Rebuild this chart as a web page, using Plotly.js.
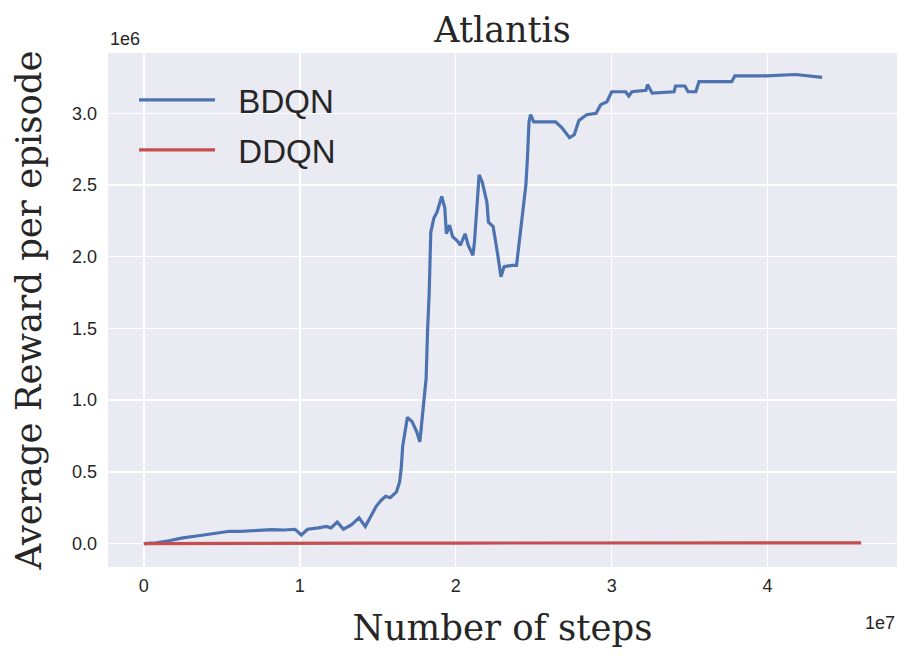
<!DOCTYPE html>
<html>
<head>
<meta charset="utf-8">
<script src="https://cdn.plot.ly/plotly-3.0.1.min.js"></script>
<style>html,body{margin:0;padding:0;background:#fff;}#chart{width:913px;height:664px;}</style>
</head>
<body>
<div id="chart"></div>
<script>
// x in units of 1e7 steps, y in units of 1e6 reward
const bdqnX = [0, 0.08, 0.16, 0.25, 0.35, 0.45, 0.55, 0.62, 0.7, 0.82, 0.9, 0.97, 1.01, 1.05, 1.12, 1.17, 1.2, 1.24, 1.28, 1.33,
  1.38, 1.42, 1.46, 1.49, 1.52, 1.55, 1.58, 1.62, 1.64, 1.65, 1.66, 1.69, 1.72, 1.75, 1.77, 1.78, 1.80, 1.81, 1.82, 1.83,
  1.84, 1.86, 1.88, 1.91, 1.93, 1.94, 1.96, 1.98, 2.01, 2.03, 2.06, 2.08, 2.11, 2.12, 2.14, 2.15, 2.17, 2.20, 2.21, 2.24,
  2.27, 2.29, 2.31, 2.36, 2.39, 2.42, 2.45, 2.46, 2.47, 2.48, 2.50, 2.55, 2.64, 2.68, 2.73, 2.76, 2.79, 2.84, 2.90, 2.93,
  2.97, 3.00, 3.09, 3.11, 3.13, 3.22, 3.23, 3.26, 3.40, 3.41, 3.47, 3.49, 3.54, 3.56, 3.77, 3.79, 3.99, 4.18, 4.35];
const bdqnY = [0.0, 0.005, 0.02, 0.04, 0.055, 0.07, 0.086, 0.085, 0.09, 0.098, 0.095, 0.10, 0.06, 0.10, 0.11, 0.12, 0.11, 0.15, 0.10, 0.13,
  0.18, 0.12, 0.20, 0.26, 0.30, 0.33, 0.32, 0.36, 0.43, 0.52, 0.68, 0.88, 0.85, 0.78, 0.71, 0.82, 1.0, 1.15, 1.50, 1.75,
  2.17, 2.27, 2.31, 2.42, 2.34, 2.16, 2.22, 2.14, 2.11, 2.08, 2.16, 2.08, 2.01, 2.10, 2.41, 2.57, 2.52, 2.38, 2.24, 2.21,
  2.01, 1.86, 1.93, 1.94, 1.94, 2.22, 2.50, 2.69, 2.94, 2.99, 2.94, 2.94, 2.94, 2.90, 2.83, 2.85, 2.95, 2.99, 3.00, 3.06,
  3.08, 3.15, 3.15, 3.12, 3.15, 3.16, 3.20, 3.14, 3.15, 3.19, 3.19, 3.15, 3.15, 3.22, 3.22, 3.26, 3.26, 3.27, 3.25];
const ddqnX = [0, 0.5, 1.0, 1.5, 2.0, 2.5, 3.0, 3.5, 4.0, 4.6];
const ddqnY = [0.0, 0.003, 0.004, 0.004, 0.004, 0.005, 0.005, 0.005, 0.005, 0.005];
const seriesNames = ['BDQN', 'DDQN'];
const xTicks = [0, 1, 2, 3, 4];
const yTicks = [0.0, 0.5, 1.0, 1.5, 2.0, 2.5, 3.0];

const txt = '#262626';
const serif = 'DejaVu Serif, serif';
const sans = 'Liberation Sans, Arial, sans-serif';
const pad = '\u00a0\u00a0';

const traces = [
  {x: bdqnX, y: bdqnY, type: 'scatter', mode: 'lines', name: pad + seriesNames[0], legendgroup: 'a', line: {color: '#4C72B0', width: 3.2}},
  {x: ddqnX, y: ddqnY, type: 'scatter', mode: 'lines', name: pad + seriesNames[1], legendgroup: 'b', line: {color: '#C44E52', width: 3.2}}
];

const layout = {
  width: 913, height: 664,
  margin: {l: 108, r: 16, t: 53, b: 97},
  paper_bgcolor: '#ffffff',
  plot_bgcolor: '#EAEAF2',
  title: {text: 'Atlantis', font: {family: serif, size: 35, color: txt}, x: 0.5, xref: 'paper', y: 0.955, yref: 'container', yanchor: 'middle'},
  xaxis: {
    range: [-0.23, 4.83], tickvals: xTicks, ticktext: xTicks.map(String),
    showgrid: true, gridcolor: '#ffffff', gridwidth: 1.5, zeroline: false, showline: false, ticks: '',
    tickfont: {family: sans, size: 18, color: txt}, ticklabelstandoff: 6,
    title: {text: 'Number of steps', font: {family: serif, size: 35.5, color: txt}, standoff: 20}
  },
  yaxis: {
    range: [-0.163, 3.42], tickvals: yTicks, ticktext: yTicks.map(v => v.toFixed(1)),
    showgrid: true, gridcolor: '#ffffff', gridwidth: 1.5, zeroline: false, showline: false, ticks: '',
    tickfont: {family: sans, size: 18, color: txt}, ticklabelstandoff: 10,
    title: {text: 'Average Reward per episode', font: {family: serif, size: 35.5, color: txt}, standoff: 19}
  },
  showlegend: true,
  legend: {x: 0.033, y: 0.963, xanchor: 'left', yanchor: 'top', bgcolor: 'rgba(0,0,0,0)',
    font: {family: sans, size: 33, color: txt}, itemwidth: 76, traceorder: 'grouped', tracegroupgap: 4},
  annotations: [
    {text: '1e6', xref: 'paper', yref: 'paper', x: 0, y: 1, xanchor: 'left', yanchor: 'bottom', yshift: 2, showarrow: false, font: {family: sans, size: 18, color: txt}},
    {text: '1e7', xref: 'paper', yref: 'paper', x: 1, y: 0, xanchor: 'right', yanchor: 'top', yshift: -44, showarrow: false, font: {family: sans, size: 18, color: txt}}
  ]
};

Plotly.newPlot('chart', traces, layout, {displayModeBar: false, staticPlot: true});
</script>
</body>
</html>
